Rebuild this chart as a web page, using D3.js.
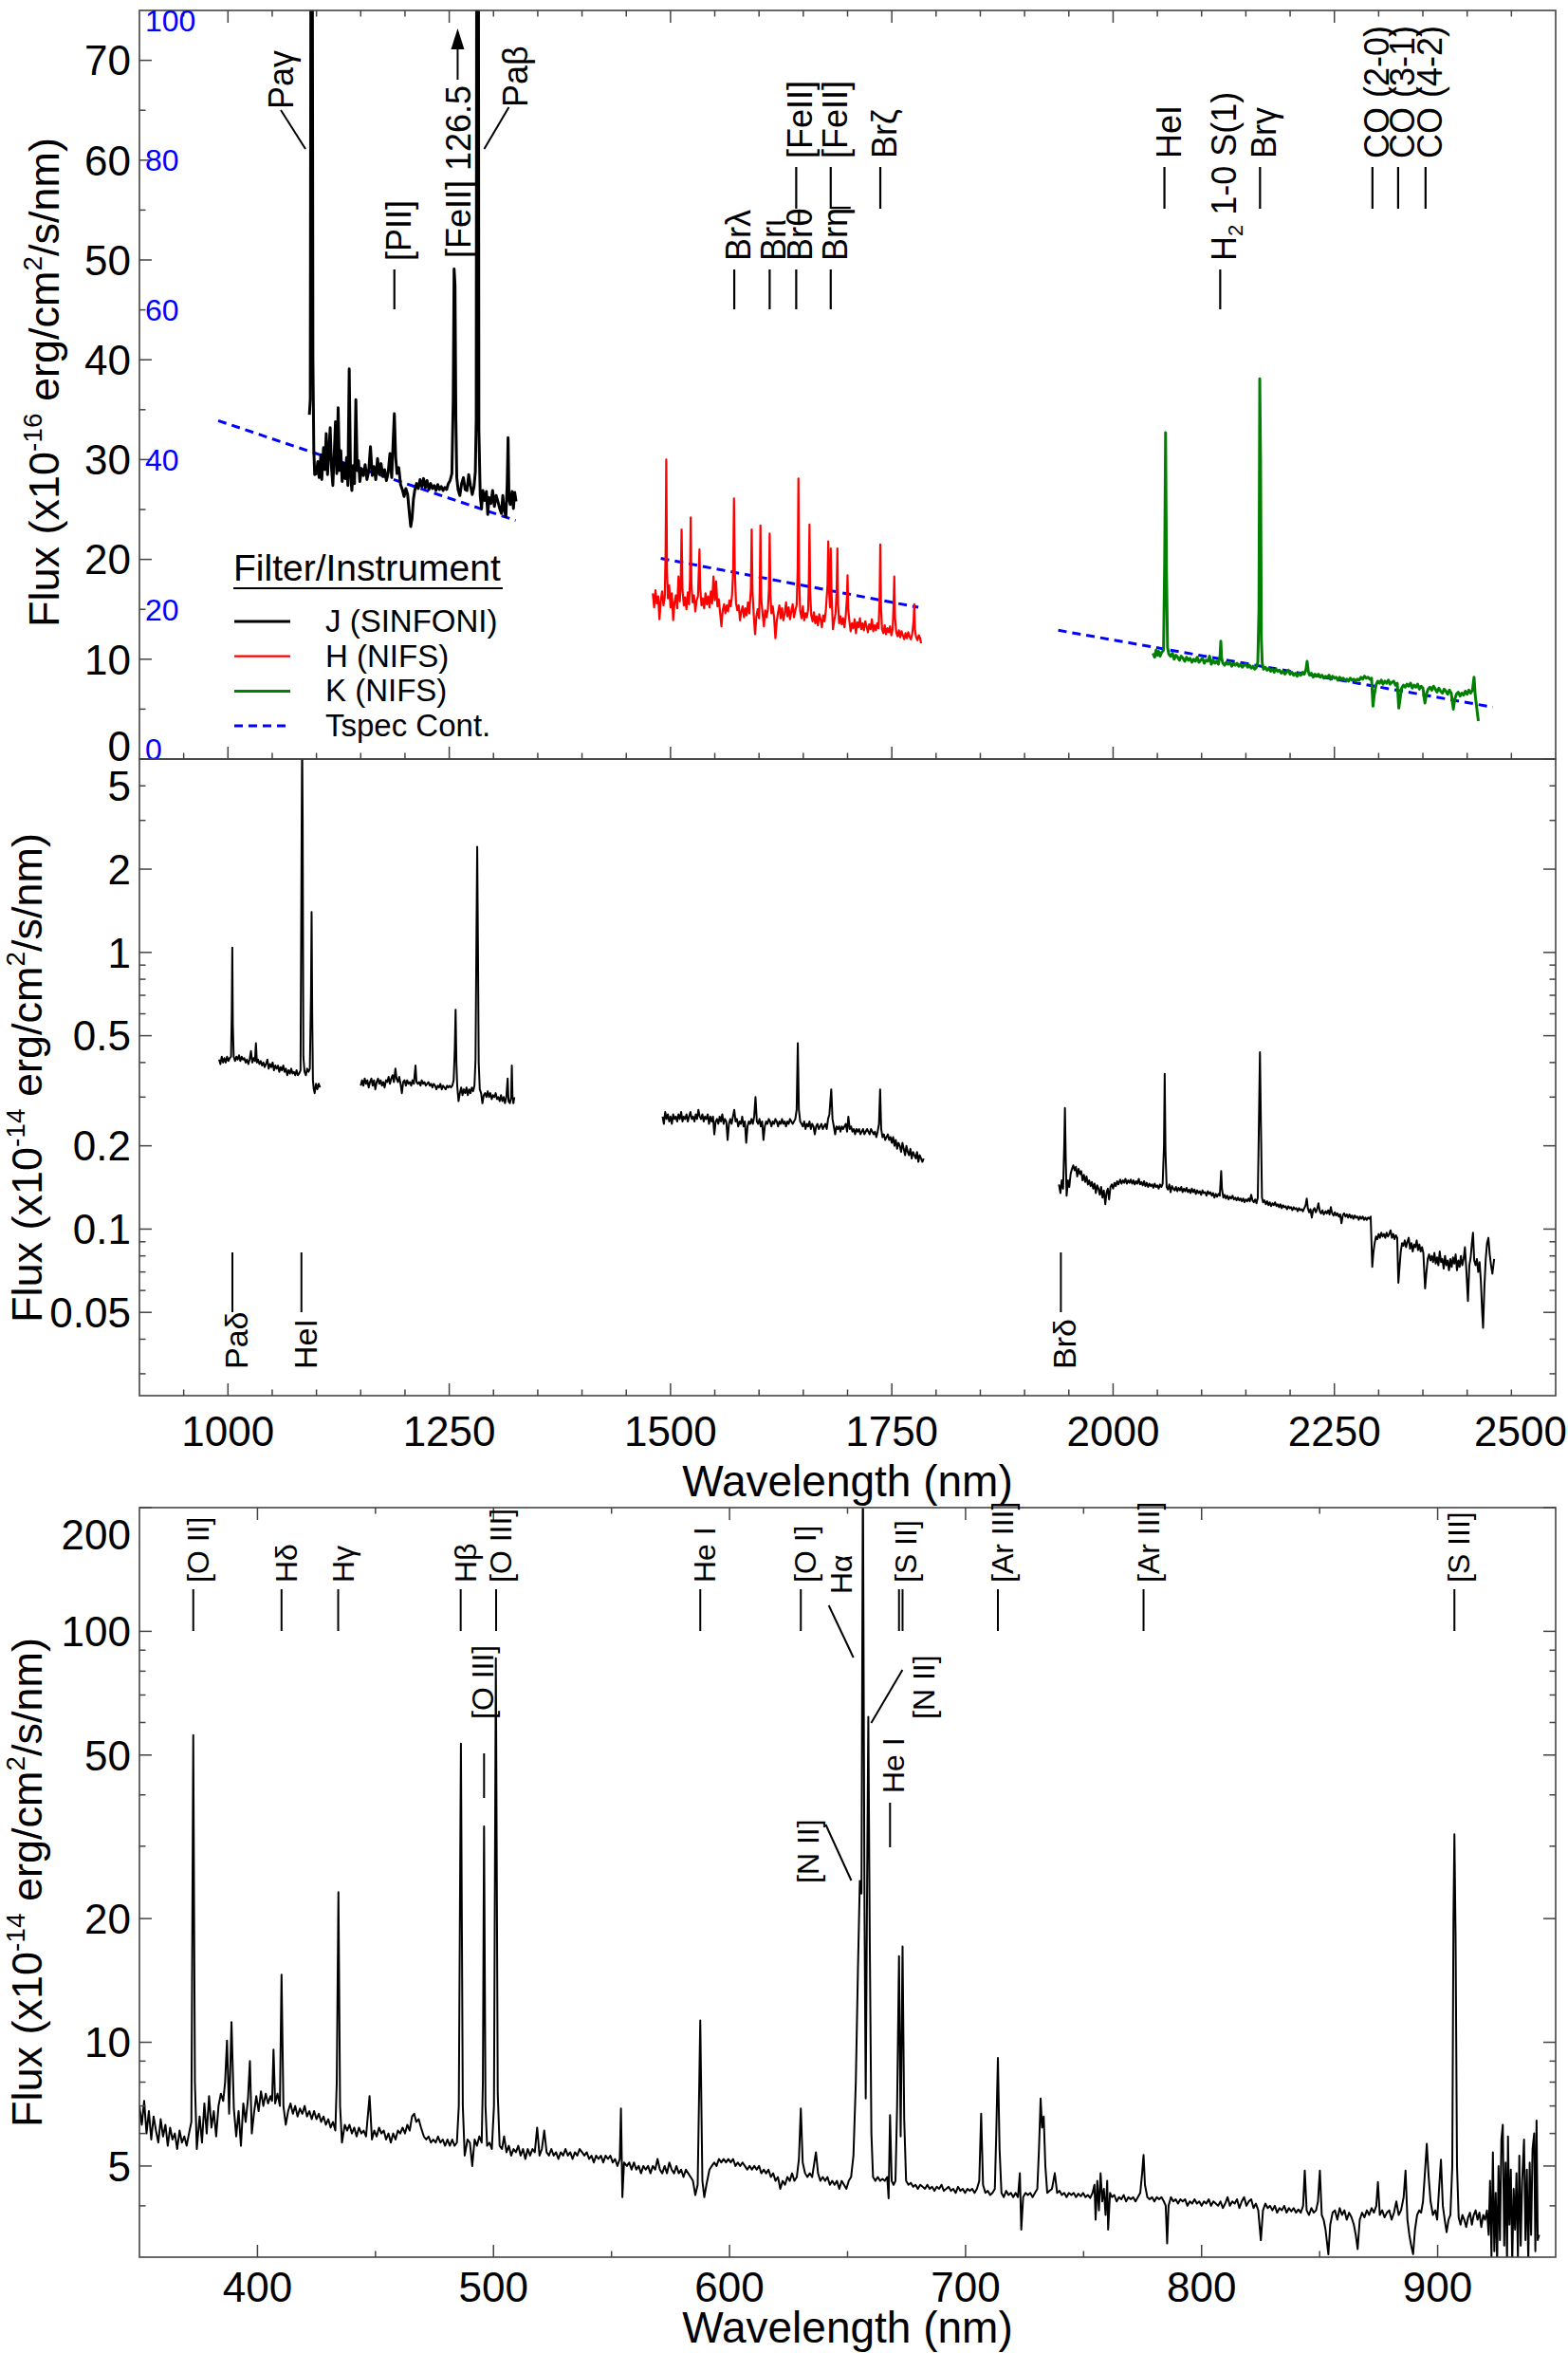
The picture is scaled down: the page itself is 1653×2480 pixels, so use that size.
<!DOCTYPE html>
<html>
<head>
<meta charset="utf-8">
<script src="https://cdn.jsdelivr.net/npm/d3@7"></script>
<style>
  body { margin: 0; background: #fff; }
  svg { display: block; font-family: "Liberation Sans", Arial, sans-serif; }
</style>
</head>
<body>
<svg id="chart" width="1653" height="2480"></svg>
<script>
// ---- data: [wavelength nm, flux] ----
const jBandTop = [
  [1092,34.5],[1093,36],[1094,100],[1095,100],[1096,40],[1097,31],[1098,28.5],[1100,28.6],[1101.5,29.8],[1103,28.2],
  [1105,30.5],[1106,28.0],[1108,31.2],[1109.5,29.0],[1111,32.6],[1112.5,28.5],[1114,30.8],[1115.5,33.2],[1117,29.2],[1118.5,27.4],
  [1120,30.4],[1121.5,33.8],[1123,28.6],[1124.5,35.2],[1126,28.9],[1127.5,30.9],[1129,27.8],[1131,29.6],[1132.5,28.1],[1134,30.2],
  [1135.5,27.4],[1137,39.1],[1138.5,28.6],[1140,26.9],[1141.5,29.4],[1143,27.6],[1144.5,36.0],[1146,28.9],[1147.5,29.9],[1149,27.8],
  [1151,29.1],[1153,28.4],[1155,29.5],[1157,28.0],[1159,28.8],[1161,31.3],[1163,28.4],[1165,29.3],[1167,28.0],[1169,30.1],
  [1171,28.5],[1173,29.6],[1175,28.3],[1177,29.0],[1179,27.9],[1181,28.7],[1183,30.6],[1185,28.2],[1186.5,31.5],[1188,34.6],
  [1189.5,30.2],[1191,28.6],[1193,29.2],[1195,27.5],[1197,27.0],[1199,26.3],[1201,27.1],[1203,26.5],[1205,24.6],[1206.5,23.3],
  [1208,24.1],[1209.5,26.0],[1211,26.9],[1213,27.6],[1215,27.1],[1217,28.0],[1219,27.3],[1221,28.1],[1223,27.2],[1225,27.9],
  [1227,27.0],[1229,27.6],[1231,27.1],[1233,27.4],[1235,26.9],[1237,27.5],[1239,27.0],[1241,27.3],[1243,26.9],[1245,27.2],
  [1247,27.0],[1249,27.6],[1251,27.9],[1253,28.6],[1254.5,36],[1255.5,49.1],[1256.5,47.5],[1257.5,34],[1258.5,28.2],[1260,27.0],
  [1262,26.4],[1264,27.6],[1266,28.2],[1268,27.0],[1270,26.9],[1272,28.5],[1274,27.4],[1276,26.5],[1278,27.3],[1279.5,28.8],
  [1280.5,34.1],[1281.5,126.5],[1282.5,126.5],[1283.5,33],[1285,26.4],[1286.5,25.1],[1288,26.9],[1290,25.9],[1292,26.8],[1293.5,24.5],
  [1295,26.2],[1297,25.6],[1299,26.9],[1301,25.3],[1303,26.4],[1305,25.8],[1307,25.1],[1309,24.6],[1310.5,26.4],[1312,25.0],
  [1314,24.3],[1315.5,27.6],[1316.5,32.2],[1317.5,26.0],[1319,25.5],[1321,26.8],[1322.5,25.1],[1324,26.7],[1325.5,25.8]
];

const hBandTop = [
  [1480,16.6],[1481.5,15.2],[1483,16.9],[1484.5,15.6],[1486,16.3],[1487.5,14.0],[1489,15.9],[1490.5,16.8],[1492,15.4],[1493.5,16.2],
  [1494.5,21],[1495.2,30.0],[1496,19],[1497,16.1],[1498.5,17.4],[1500,15.2],[1501.5,16.6],[1503,13.9],[1504.5,15.7],[1506,16.4],
  [1507.5,15.1],[1509,18.3],[1510.5,15.8],[1511.5,17.5],[1512.5,23.0],[1513.5,17.0],[1515,15.4],[1516.5,16.2],[1518,15.0],[1519.5,16.7],
  [1521,15.5],[1522,18],[1522.8,24.2],[1523.6,17.5],[1525,15.7],[1526.5,16.4],[1528,14.8],[1529.5,15.9],[1531,16.3],[1532,19],
  [1532.7,21.0],[1533.5,17.2],[1535,15.4],[1536.5,16.1],[1538,15.1],[1539.5,16.6],[1541,15.5],[1542.5,16.3],[1544,15.2],[1545.5,16.8],
  [1547,15.6],[1548.5,18.3],[1550,15.9],[1551.5,17.8],[1553,15.3],[1554.5,16.0],[1556,14.7],[1557.5,13.3],[1559,14.9],[1560.5,15.5],
  [1562,14.6],[1563.5,15.4],[1565,14.8],[1566.5,15.9],[1568,15.3],[1569.5,16.4],[1570.8,19],[1571.7,26.1],[1572.6,19],[1574,15.6],
  [1575.5,14.9],[1577,15.4],[1578.5,13.9],[1580,14.8],[1581.5,15.3],[1583,14.2],[1584.5,15.1],[1586,14.4],[1587.5,15.7],[1589,14.6],
  [1590.8,17],[1591.7,23.0],[1592.6,16.8],[1594,14.5],[1595.5,12.5],[1597,14.3],[1598.5,15.0],[1600,14.1],[1600.8,17],[1601.6,23.4],
  [1602.5,16],[1604,14.6],[1605.5,13.3],[1607,14.9],[1608.5,14.2],[1610,15.0],[1611.2,17],[1612,22.6],[1612.9,16.4],[1614,14.6],
  [1615.5,15.3],[1617,14.2],[1618.5,12.1],[1620,13.8],[1621.5,14.7],[1623,15.4],[1624.5,14.1],[1626,15.1],[1627.5,13.9],[1629,14.6],
  [1630.5,15.7],[1632,14.3],[1633.5,15.2],[1635,14.0],[1636.5,14.8],[1638,15.5],[1639.5,14.2],[1641,14.9],[1642.5,15.4],[1643.7,19],
  [1644.5,28.1],[1645.3,18],[1646.5,14.8],[1648,14.1],[1649.5,15.3],[1651,13.9],[1652.5,14.6],[1654,14.2],[1655.5,15.0],[1656.3,18],
  [1657,23.5],[1657.8,16.6],[1659,14.4],[1660.5,13.8],[1662,14.7],[1663.5,13.6],[1665,14.3],[1666.5,13.4],[1668,14.5],[1669.5,14.0],
  [1671,13.2],[1672.5,14.4],[1674,13.8],[1675.5,14.9],[1677.4,17.5],[1678.2,21.8],[1679,17],[1680.2,15.2],[1681,21.1],[1682,16.4],
  [1683.5,13.0],[1685,13.9],[1686.5,14.6],[1687.7,17],[1688.5,21.1],[1689.3,15.5],[1690.5,13.6],[1692,14.3],[1693.5,13.5],[1695,14.1],
  [1696.5,13.2],[1698,14.4],[1699.2,16],[1700,18.4],[1700.8,15],[1702,13.9],[1703.5,12.8],[1705,13.6],[1706.5,13.1],[1708,14.0],
  [1709.5,12.6],[1711,13.7],[1712.5,13.2],[1714,14.1],[1715.5,13.0],[1717,13.6],[1718.5,12.9],[1720,13.8],[1721.5,13.3],[1723,12.7],
  [1724.5,13.5],[1726,13.0],[1727.5,14.0],[1729,12.8],[1730.5,13.4],[1732,12.9],[1733.5,13.6],[1735,13.1],[1736.2,16],[1737,21.5],
  [1737.8,15.2],[1739,13.0],[1740.5,12.6],[1742,13.4],[1743.5,12.5],[1745,13.1],[1746.5,12.7],[1748,13.3],[1749.5,12.4],[1751,13.0],
  [1752,15.5],[1752.8,18.3],[1753.6,14.2],[1755,12.7],[1756.5,12.3],[1758,12.9],[1759.5,12.2],[1761,12.8],[1762.5,12.4],[1764,12.0],
  [1765.5,12.6],[1767,12.1],[1768.5,12.7],[1770,12.3],[1771.5,12.0],[1773,12.5],[1774.6,13.8],[1775.4,15.5],[1776.2,12.9],[1777.5,12.2],
  [1779,11.9],[1780.5,12.4],[1782,12.1],[1783,11.6]
];

const kBandTop = [
  [2045,10.6],[2047,10.2],[2048.5,10.9],[2050,10.4],[2051.5,10.8],[2053,10.3],[2055,10.7],[2057,10.9],[2058.3,20],[2059.3,32.7],
  [2060.3,19],[2061.5,11.2],[2063,10.5],[2065,10.3],[2067,10.6],[2069,10.0],[2071,10.4],[2073,10.2],[2075,9.9],[2077,10.3],
  [2079,10.1],[2081,9.8],[2083,10.2],[2085,9.9],[2087,10.1],[2089,9.7],[2091,10.0],[2093,9.8],[2095,10.2],[2097,9.7],
  [2099,9.9],[2101,10.1],[2103,9.6],[2105,9.9],[2107,9.8],[2109,10.3],[2111,9.5],[2113,9.9],[2115,9.6],[2117,9.8],
  [2119,9.5],[2120.8,10.3],[2121.7,11.8],[2122.6,10.1],[2124,9.6],[2126,9.4],[2128,9.7],[2130,9.5],[2132,9.7],[2134,9.3],
  [2136,9.6],[2138,9.4],[2140,9.6],[2142,9.3],[2144,9.5],[2146,9.2],[2148,9.4],[2150,9.5],[2152,9.2],[2154,9.4],
  [2156,9.1],[2158,9.3],[2160,9.0],[2162,9.2],[2163.5,9.7],[2164.8,15],[2165.7,38.1],[2166.6,30],[2167.5,12],[2168.5,9.6],
  [2170,9.0],[2172,9.2],[2174,8.9],[2176,9.1],[2178,8.8],[2180,9.0],[2182,8.7],[2184,9.0],[2186,8.8],[2188,8.9],
  [2190,8.6],[2192,8.8],[2194,8.5],[2196,8.7],[2198,8.9],[2200,8.5],[2202,8.7],[2204,8.4],[2206,8.6],[2208,8.3],
  [2210,8.6],[2212,8.4],[2214,8.7],[2216,8.5],[2218,9.0],[2219.2,9.8],[2220.5,8.8],[2222,8.4],[2224,8.6],[2226,8.2],
  [2228,8.5],[2230,8.3],[2232,8.5],[2234,8.2],[2236,8.4],[2238,8.1],[2240,8.3],[2242,8.2],[2244,8.4],[2246,8.0],
  [2248,8.3],[2250,8.1],[2252,8.2],[2254,7.9],[2256,8.2],[2258,8.0],[2260,8.1],[2262,7.9],[2264,8.0],[2266,7.8],
  [2268,8.1],[2270,7.9],[2272,8.0],[2274,7.8],[2276,8.0],[2278,7.9],[2280,8.2],[2282,8.0],[2284,8.3],[2286,8.1],
  [2288,8.2],[2290,8.0],[2292,8.1],[2293.6,5.3],[2295,6.4],[2297,7.4],[2299,7.8],[2301,7.6],[2303,7.9],[2305,7.5],
  [2307,7.8],[2309,7.6],[2311,7.9],[2313,7.5],[2315,7.7],[2317,7.8],[2319,7.4],[2321,7.6],[2322.8,5.1],[2324.5,6.2],
  [2326,7.1],[2328,7.4],[2330,7.2],[2332,7.5],[2334,7.3],[2336,7.6],[2338,7.1],[2340,7.4],[2342,7.2],[2344,7.5],
  [2346,7.0],[2348,7.3],[2350,7.1],[2352.3,5.6],[2354,6.5],[2356,7.0],[2358,7.2],[2360,6.9],[2362,7.3],[2364,7.0],
  [2366,6.7],[2368,7.1],[2370,6.8],[2372,6.6],[2374,7.0],[2376,6.8],[2378,6.5],[2380,6.9],[2382,6.6],[2384.4,5.0],
  [2386,6.0],[2388,6.5],[2390,6.7],[2392,6.3],[2394,6.6],[2396,6.4],[2398,6.8],[2400,6.5],[2402,6.9],[2404,6.6],
  [2406,6.9],[2407.8,8.2],[2409,6.5],[2411,5.0],[2412.7,3.8]
];

// Tspec continuum segments (straight dashed lines)
const tspecJ = [[989,33.9],[1325,23.9]];
const tspecH = [[1489,20.1],[1780,15.2]];
const tspecK = [[1938,12.9],[2429,5.2]];

// middle panel (log flux, x1e-14)
const midSeg1 = [
  [990,0.41],[991.5,0.395],[993,0.42],[994.5,0.40],[996,0.415],[997.5,0.40],[999,0.42],[1000.5,0.405],[1002,0.415],[1003.5,0.42],
  [1004.3,0.6],[1004.9,1.04],[1005.5,0.55],[1006.5,0.42],[1008,0.405],[1009.5,0.42],[1011,0.41],[1012.5,0.425],[1014,0.405],[1015.5,0.42],
  [1017,0.41],[1018.5,0.415],[1020,0.40],[1021.5,0.41],[1023,0.395],[1024.5,0.41],[1026,0.44],[1027.5,0.40],[1029,0.415],[1030.5,0.405],
  [1031.6,0.47],[1032.7,0.40],[1034,0.41],[1035.5,0.395],[1037,0.405],[1038.5,0.39],[1040,0.40],[1041.5,0.385],[1043,0.395],[1044.5,0.41],
  [1046,0.38],[1047.5,0.395],[1049,0.385],[1050.5,0.40],[1052,0.375],[1053.5,0.39],[1055,0.38],[1056.5,0.39],[1058,0.37],[1059.5,0.385],
  [1061,0.375],[1062.5,0.39],[1064,0.37],[1065.5,0.38],[1067,0.36],[1068.5,0.375],[1070,0.365],[1071.5,0.38],[1073,0.365],[1074.5,0.37],
  [1076,0.36],[1077.5,0.375],[1079,0.36],[1080.5,0.365],[1082,0.375],[1083.2,2.5],[1083.8,6.0],[1084.4,3.0],[1085.2,0.42],[1086.5,0.37],
  [1088,0.36],[1089.5,0.38],[1091,0.37],[1092.5,0.38],[1093.8,0.7],[1094.5,1.40],[1095.2,0.6],[1096,0.345],[1097,0.32],[1098,0.31],
  [1099.5,0.335],[1101,0.32],[1102.5,0.335],[1104,0.325]
];
const midSeg2 = [
  [1150,0.33],[1151.5,0.345],[1153,0.33],[1154.5,0.35],[1156,0.335],[1157.5,0.345],[1159,0.325],[1160.5,0.34],[1162,0.35],[1163.5,0.33],
  [1165,0.345],[1166.5,0.32],[1168,0.34],[1169.5,0.35],[1171,0.335],[1172.5,0.345],[1174,0.33],[1175.5,0.34],[1177,0.325],[1178.5,0.345],
  [1180,0.34],[1181.5,0.355],[1183,0.335],[1184.5,0.35],[1186,0.36],[1187.5,0.34],[1189.2,0.38],[1190.5,0.35],[1192,0.34],[1193.5,0.355],
  [1195,0.335],[1196.5,0.31],[1198,0.34],[1199.5,0.345],[1201,0.33],[1202.5,0.345],[1204,0.335],[1205.5,0.34],[1207,0.33],[1208.5,0.345],
  [1210,0.335],[1211.9,0.39],[1213,0.34],[1214.5,0.335],[1216,0.34],[1217.5,0.33],[1219,0.345],[1220.5,0.335],[1222,0.34],[1223.5,0.33],
  [1225,0.335],[1226.5,0.34],[1228,0.33],[1229.5,0.335],[1231,0.325],[1232.5,0.335],[1234,0.33],[1235.5,0.32],[1237,0.33],[1238.5,0.325],
  [1240,0.335],[1241.5,0.32],[1243,0.33],[1244.5,0.325],[1246,0.32],[1247.5,0.33],[1249,0.325],[1250.5,0.33],[1252,0.325],[1253.5,0.33],
  [1255,0.345],[1256.3,0.45],[1257.2,0.62],[1258.1,0.4],[1259,0.33],[1260.5,0.29],[1262,0.31],[1263.5,0.325],[1265,0.305],[1266.5,0.32],
  [1268,0.31],[1269.5,0.325],[1271,0.305],[1272.5,0.32],[1274,0.31],[1275.5,0.325],[1277,0.315],[1278.5,0.33],[1279.7,0.41],[1280.8,1.2],
  [1281.6,2.41],[1282.4,1.1],[1283.3,0.4],[1284.5,0.32],[1286,0.31],[1287.5,0.285],[1289,0.305],[1290.5,0.31],[1292,0.30],[1293.5,0.315],
  [1295,0.30],[1296.5,0.31],[1298,0.295],[1299.5,0.305],[1301,0.30],[1302.5,0.31],[1304,0.295],[1305.5,0.30],[1307,0.29],[1308.5,0.305],
  [1310,0.29],[1311.5,0.30],[1313,0.285],[1314.5,0.30],[1316,0.35],[1317,0.29],[1318.5,0.285],[1320,0.30],[1320.7,0.39],[1321.5,0.30],
  [1322.5,0.285],[1323.5,0.30]
];
const midSeg3 = [
  [1491,0.255],[1492.5,0.24],[1494,0.265],[1495.5,0.25],[1497,0.26],[1498.5,0.245],[1500,0.255],[1501.5,0.24],[1503,0.26],[1504.5,0.25],
  [1506,0.255],[1507.5,0.245],[1509,0.26],[1510.5,0.25],[1512,0.265],[1513.5,0.245],[1515,0.255],[1516.5,0.25],[1518,0.26],[1519.5,0.245],
  [1521,0.255],[1522.5,0.265],[1524,0.25],[1525.5,0.255],[1527,0.245],[1528.5,0.26],[1530,0.25],[1531.5,0.27],[1533,0.255],[1534.5,0.25],
  [1536,0.26],[1537.5,0.245],[1539,0.255],[1540.5,0.25],[1542,0.26],[1543.5,0.24],[1545,0.255],[1546.5,0.245],[1548,0.255],[1549.5,0.22],
  [1551,0.245],[1552.5,0.25],[1554,0.24],[1555.5,0.255],[1557,0.245],[1558.5,0.26],[1560,0.24],[1561.5,0.25],[1563,0.245],[1564.5,0.21],
  [1566,0.24],[1567.5,0.25],[1569,0.24],[1570.5,0.255],[1572,0.27],[1573.5,0.245],[1575,0.25],[1576.5,0.235],[1578,0.245],[1579.5,0.24],
  [1581,0.255],[1582.5,0.235],[1584,0.245],[1585.5,0.205],[1587,0.235],[1588.5,0.245],[1590,0.24],[1591.5,0.25],[1593,0.24],[1594.5,0.255],
  [1596,0.30],[1597.5,0.245],[1599,0.24],[1600.5,0.25],[1602,0.235],[1603.5,0.245],[1605,0.21],[1606.5,0.235],[1608,0.245],[1609.5,0.24],
  [1611,0.25],[1612.5,0.245],[1614,0.235],[1615.5,0.245],[1617,0.24],[1618.5,0.25],[1620,0.245],[1621.5,0.235],[1623,0.245],[1624.5,0.24],
  [1626,0.25],[1627.5,0.24],[1629,0.245],[1630.5,0.235],[1632,0.245],[1633.5,0.24],[1635,0.25],[1636.5,0.245],[1638,0.24],[1639.5,0.245],
  [1641,0.25],[1642.5,0.27],[1643.8,0.47],[1645,0.27],[1646.5,0.245],[1648,0.24],[1649.5,0.235],[1651,0.245],[1652.5,0.23],[1654,0.24],
  [1655.5,0.235],[1657,0.245],[1658.5,0.23],[1660,0.24],[1661.5,0.235],[1663,0.22],[1664.5,0.235],[1666,0.24],[1667.5,0.23],[1669,0.235],
  [1670.5,0.24],[1672,0.23],[1673.5,0.235],[1675,0.24],[1676.5,0.23],[1678,0.25],[1679.5,0.26],[1681.6,0.32],[1683,0.25],[1684.5,0.235],
  [1686,0.22],[1687.5,0.235],[1689,0.23],[1690.5,0.235],[1692,0.225],[1693.5,0.235],[1695,0.23],[1696.5,0.235],[1698,0.24],[1699.5,0.225],
  [1700.9,0.255],[1702.5,0.23],[1704,0.235],[1705.5,0.225],[1707,0.23],[1708.5,0.22],[1710,0.23],[1711.5,0.225],[1713,0.23],[1714.5,0.22],
  [1716,0.225],[1717.5,0.23],[1719,0.22],[1720.5,0.225],[1722,0.23],[1723.5,0.225],[1725,0.22],[1726.5,0.23],[1728,0.225],[1729.5,0.22],
  [1731,0.225],[1732.5,0.215],[1734,0.225],[1735.5,0.24],[1736.8,0.32],[1738,0.23],[1739.5,0.215],[1741,0.22],[1742.5,0.21],[1744,0.215],
  [1745.5,0.22],[1747,0.21],[1748.5,0.215],[1750,0.205],[1751.5,0.215],[1753,0.2],[1754.5,0.21],[1756,0.195],[1757.5,0.205],[1759,0.2],
  [1760.5,0.19],[1762,0.205],[1763.5,0.195],[1765,0.185],[1766.5,0.2],[1768,0.19],[1769.5,0.185],[1771,0.195],[1772.5,0.18],[1774,0.19],
  [1775.5,0.185],[1777,0.18],[1778.5,0.19],[1780,0.175],[1781.5,0.185],[1783,0.18],[1784.5,0.175],[1786,0.18]
];
const midSeg4 = [
  [1938.8,0.145],[1940.5,0.135],[1942,0.15],[1943.5,0.14],[1944.8,0.2],[1945.6,0.274],[1946.5,0.18],[1947.5,0.132],[1949,0.15],[1950.5,0.142],
  [1952,0.158],[1953.5,0.165],[1955,0.17],[1956.5,0.163],[1958,0.168],[1959.5,0.155],[1961,0.165],[1962.5,0.158],[1964,0.162],[1965.5,0.15],
  [1967,0.157],[1968.5,0.148],[1970,0.155],[1971.5,0.145],[1973,0.15],[1974.5,0.143],[1976,0.148],[1977.5,0.14],[1979,0.146],[1980.5,0.135],
  [1982,0.144],[1983.5,0.14],[1985,0.133],[1986.5,0.142],[1988,0.13],[1989.5,0.138],[1991.2,0.123],[1992.5,0.135],[1994,0.14],[1995.5,0.128],
  [1997,0.142],[1998.5,0.145],[2000,0.14],[2001.5,0.147],[2003,0.143],[2004.5,0.149],[2006,0.145],[2008,0.151],[2009.5,0.146],[2011,0.15],
  [2012.5,0.147],[2014,0.152],[2015.5,0.146],[2017,0.15],[2018.5,0.147],[2020,0.151],[2021.5,0.146],[2023,0.15],[2024.5,0.145],[2026,0.149],
  [2027.5,0.146],[2029,0.152],[2030.5,0.145],[2032,0.148],[2033.5,0.144],[2035,0.149],[2036.5,0.143],[2038,0.147],[2039.5,0.142],[2041,0.146],
  [2042.5,0.143],[2044,0.145],[2045.5,0.141],[2047,0.146],[2048.5,0.142],[2050,0.144],[2051.5,0.14],[2053,0.145],[2054.5,0.142],[2056,0.146],
  [2057.5,0.2],[2058.3,0.364],[2059.2,0.19],[2060.5,0.142],[2062,0.139],[2063.5,0.145],[2065,0.136],[2066.5,0.143],[2068,0.14],[2069.5,0.138],
  [2071,0.142],[2072.5,0.137],[2074,0.141],[2075.5,0.138],[2077,0.142],[2078.5,0.136],[2080,0.14],[2081.5,0.137],[2083,0.141],[2084.5,0.136],
  [2086,0.139],[2087.5,0.135],[2089,0.14],[2090.5,0.136],[2092,0.139],[2093.5,0.134],[2095,0.138],[2096.5,0.135],[2098,0.137],[2099.5,0.133],
  [2101,0.138],[2102.5,0.135],[2104,0.136],[2105.5,0.132],[2107,0.137],[2108.5,0.134],[2110,0.136],[2111.5,0.132],[2113,0.135],[2114.5,0.13],
  [2116,0.134],[2117.5,0.131],[2119,0.134],[2120.5,0.132],[2121.3,0.145],[2122.1,0.162],[2123,0.14],[2124.5,0.13],[2126,0.133],[2127.5,0.129],
  [2129,0.132],[2130.5,0.128],[2132,0.131],[2133.5,0.129],[2135,0.132],[2136.5,0.128],[2138,0.13],[2139.5,0.127],[2141,0.13],[2142.5,0.127],
  [2144,0.129],[2145.5,0.126],[2147,0.129],[2148.5,0.125],[2150,0.128],[2151.5,0.126],[2153,0.129],[2154.5,0.126],[2156,0.133],[2157.5,0.127],
  [2159,0.125],[2160.5,0.128],[2162,0.124],[2163.5,0.13],[2164.8,0.25],[2165.9,0.436],[2167,0.24],[2168.2,0.13],[2169.5,0.125],[2171,0.127],
  [2172.5,0.123],[2174,0.126],[2175.5,0.122],[2177,0.125],[2178.5,0.121],[2180,0.124],[2181.5,0.122],[2183,0.125],[2184.5,0.121],[2186,0.123],
  [2187.5,0.12],[2189,0.123],[2190.5,0.119],[2192,0.122],[2193.5,0.12],[2195,0.121],[2196.5,0.118],[2198,0.121],[2199.5,0.119],[2201,0.12],
  [2202.5,0.117],[2204,0.12],[2205.5,0.118],[2207,0.119],[2208.5,0.116],[2210,0.119],[2211.5,0.117],[2213,0.118],[2214.5,0.116],[2216,0.119],
  [2217.5,0.122],[2218.8,0.129],[2220,0.119],[2221.5,0.115],[2223,0.118],[2224.5,0.11],[2226,0.117],[2227.5,0.119],[2229,0.115],[2230.5,0.118],
  [2232,0.124],[2233.5,0.116],[2235,0.114],[2236.5,0.117],[2238,0.113],[2240,0.116],[2241.5,0.114],[2243,0.117],[2244.5,0.113],[2246,0.12],
  [2247.5,0.114],[2249,0.112],[2250.5,0.115],[2252,0.112],[2253.5,0.114],[2255,0.111],[2256.5,0.113],[2258,0.105],[2259.5,0.112],[2261,0.114],
  [2262.5,0.111],[2264,0.113],[2265.5,0.11],[2267,0.113],[2268.5,0.11],[2270,0.112],[2271.5,0.109],[2273,0.112],[2274.5,0.11],[2276,0.111],
  [2277.5,0.108],[2279,0.111],[2280.5,0.109],[2282,0.111],[2283.5,0.108],[2285,0.11],[2286.5,0.108],[2288,0.11],[2289.5,0.109],[2291,0.111],
  [2292.8,0.073],[2294,0.082],[2295.5,0.089],[2297,0.094],[2298.5,0.092],[2300,0.096],[2301.5,0.093],[2303,0.097],[2304.5,0.094],[2306,0.096],
  [2307.5,0.093],[2309,0.097],[2310.5,0.094],[2312,0.096],[2313.5,0.099],[2315,0.093],[2316.5,0.096],[2318,0.092],[2319.5,0.095],[2321,0.093],
  [2322.3,0.064],[2323.5,0.072],[2325,0.083],[2326.5,0.089],[2328,0.087],[2329.5,0.091],[2331,0.086],[2332.5,0.09],[2334,0.093],[2335.5,0.085],
  [2337,0.089],[2338.5,0.083],[2340,0.088],[2341.5,0.086],[2343,0.091],[2344.5,0.084],[2346,0.088],[2347.5,0.083],[2349,0.086],[2350.5,0.082],
  [2352.5,0.061],[2354,0.07],[2355.5,0.078],[2357,0.081],[2358.5,0.077],[2360,0.08],[2361.5,0.076],[2363,0.082],[2364.5,0.075],[2366,0.079],
  [2367.5,0.074],[2369,0.083],[2370.5,0.076],[2372,0.078],[2373.5,0.072],[2375,0.08],[2376.5,0.074],[2378,0.077],[2379.5,0.071],[2381,0.078],
  [2382.5,0.073],[2384,0.079],[2385.5,0.075],[2387,0.081],[2388.5,0.071],[2390,0.077],[2391.5,0.073],[2393,0.08],[2394.5,0.074],[2396,0.078],
  [2397.5,0.086],[2399,0.072],[2400.9,0.055],[2402.5,0.074],[2404,0.079],[2405.5,0.09],[2406.6,0.097],[2408,0.077],[2409.5,0.074],[2411,0.078],
  [2412.5,0.07],[2414,0.076],[2415.5,0.065],[2417,0.05],[2418,0.044],[2419.5,0.062],[2421,0.078],[2422.5,0.089],[2424,0.093],[2425.5,0.081],
  [2427,0.074],[2428.5,0.069],[2430.5,0.078]
];

// bottom panel optical spectrum (x1e-14)
const optSpec = [
  [350,7.0],[351,6.3],[352,7.2],[353,6.0],[354,6.8],[355,5.8],[356,6.6],[357,6.1],[358,5.7],[359,6.5],
  [360,5.9],[361,6.3],[362,5.6],[363,6.2],[364,5.8],[365,6.0],[366,5.5],[367,6.1],[368,5.7],[369,5.9],
  [370,5.6],[371,6.0],[372,6.4],[372.8,55.9],[373.5,8],[374.3,5.5],[375.5,6.6],[376.5,5.7],[377.5,7.1],[378.5,6.0],
  [379.5,7.4],[380.5,6.2],[381.5,6.8],[382.5,5.9],[383.5,7.0],[384.5,7.5],[385.5,7.2],[386.3,8.0],[387.1,10.1],[388,6.7],
  [389,11.2],[390,6.9],[391,5.9],[392,6.8],[393,5.6],[394,7.1],[395,6.4],[396,7.3],[396.8,9.0],[397.6,6.0],
  [398.5,6.7],[399.5,7.4],[400.5,6.8],[401.5,7.6],[402.5,7.0],[403.5,7.5],[404.5,7.1],[405.5,7.4],[406.2,7.2],[406.8,9.6],
  [407.5,7.1],[408.5,7.5],[409.5,7.0],[410.2,14.6],[411,7.0],[412,6.3],[413,6.8],[414,7.1],[415,6.7],[416,7.0],
  [417,6.6],[418,6.9],[419,6.7],[420,7.0],[421,6.6],[422,6.8],[423,6.5],[424,6.8],[425,6.5],[426,6.7],
  [427,6.4],[428,6.6],[429,6.3],[430,6.5],[431,6.2],[432,6.4],[433,6.1],[433.6,8],[434.3,23.2],[435,7],
  [435.8,5.7],[437,6.3],[438,6.1],[439,6.3],[440,6.0],[441,6.2],[442,5.9],[443,6.2],[444,6.0],[445,6.1],
  [446,5.9],[447.5,7.4],[448.5,5.8],[449.5,6.1],[450.5,5.9],[451.5,6.2],[452.5,6.0],[453.5,6.1],[454.5,5.8],[455.5,6.0],
  [456.5,5.7],[457.5,6.0],[458.5,5.8],[459.5,6.1],[460.5,6.0],[461.5,6.2],[462.5,6.0],[463.5,6.3],[464.5,6.1],[465.5,6.6],
  [466.4,6.7],[467.3,6.4],[468.3,6.5],[469.3,6.2],[470.5,5.9],[471.5,5.8],[472.5,5.9],[473.5,5.7],[474.5,5.8],[475.5,5.7],
  [476.5,5.9],[477.5,5.7],[478.5,5.8],[479.5,5.6],[480.5,5.8],[481.5,5.6],[482.5,5.8],[483.5,5.6],[484.5,5.7],[485.3,7],
  [486.2,53.3],[487,7],[487.8,5.3],[489,5.8],[490,5.7],[491,5.0],[492,5.8],[493,5.6],[494,5.9],[495,5.7],
  [495.5,8],[496,33.5],[496.6,7],[497.3,5.6],[498.3,5.7],[499.3,5.5],[500.2,7],[501,86],[501.8,7.5],[502.6,5.6],
  [503.6,5.5],[504.5,5.9],[505.5,5.4],[506.5,5.6],[507.5,5.3],[508.5,5.5],[509.5,5.4],[510.5,5.6],[511.5,5.3],[512.5,5.5],
  [513.5,5.2],[514.5,5.5],[515.5,5.3],[516.5,5.5],[517.5,5.4],[518.5,6.2],[519.5,5.3],[520.5,5.5],[521.5,6.1],[522.5,5.4],
  [523.5,5.3],[524.5,5.5],[525.5,5.3],[526.5,5.4],[527.5,5.2],[528.5,5.4],[529.5,5.3],[530.5,5.5],[531.5,5.3],[532.5,5.4],
  [533.5,5.2],[534.5,5.4],[535.5,5.3],[536.5,5.5],[537.5,5.4],[538.5,5.3],[539.5,5.4],[540.5,5.2],[541.5,5.3],[542.5,5.1],
  [543.5,5.3],[544.5,5.2],[545.5,5.3],[546.5,5.1],[547.5,5.3],[548.5,5.2],[549.5,5.3],[550.5,5.1],[551.5,5.2],[552.5,5.0],
  [553.5,5.2],[554,6.9],[554.6,4.2],[555.3,5.1],[556.5,5.0],[557.5,5.1],[558.5,4.9],[559.5,5.1],[560.5,4.9],[561.5,5.0],
  [562.5,4.8],[563.5,5.0],[564.5,4.9],[565.5,5.0],[566.5,4.8],[567.5,5.0],[568.5,4.9],[569.5,5.2],[570.5,4.9],[571.5,4.8],
  [572.5,5.0],[573.5,4.8],[574.5,5.1],[575.5,4.9],[576.5,4.8],[577.5,5.0],[578.5,4.8],[579.5,4.9],[580.5,4.7],[581.5,4.9],
  [582.5,4.8],[583.5,4.7],[584.5,4.6],[585.5,4.25],[586.5,4.5],[587.6,11.3],[588.5,4.6],[589.3,4.2],[590.2,4.5],[591.5,4.9],
  [592.5,5.0],[593.5,5.1],[594.5,5.0],[595.5,5.2],[596.5,5.1],[597.5,5.2],[598.5,5.1],[599.5,5.2],[600.5,5.1],[601.5,5.2],
  [602.5,5.0],[603.5,5.1],[604.5,5.0],[605.5,5.1],[606.5,5.0],[607.5,4.9],[608.5,5.0],[609.5,4.9],[610.5,5.0],[611.5,4.9],
  [612.5,5.0],[613.5,4.8],[614.5,4.9],[615.5,4.8],[616.5,4.9],[617.5,4.7],[618.5,4.8],[619.5,4.6],[620.5,4.7],[621.5,4.4],
  [622.5,4.6],[623.5,4.5],[624.5,4.7],[625.5,4.6],[626.5,4.8],[627.5,4.6],[628.5,4.7],[629.4,5.2],[630.2,6.9],[631,5.1],
  [632,4.8],[633,4.7],[634,4.8],[635,4.7],[636.6,5.4],[637.5,4.8],[638.5,4.6],[639.5,4.7],[640.5,4.6],[641.5,4.7],
  [642.5,4.5],[643.5,4.6],[644.5,4.5],[645.5,4.6],[646.5,4.4],[647.5,4.6],[648.5,4.5],[649.5,4.4],[650.5,4.6],[651.5,4.7],
  [652.5,5.3],[653.5,8],[654.4,15],[655.2,24.7],[655.9,23],[656.5,250],[657.2,20],[657.7,7.3],[658.3,25],[658.8,61.9],
  [659.4,18],[660.1,6],[660.8,4.7],[661.8,4.6],[662.8,4.7],[663.8,4.6],[664.8,4.65],[665.8,4.6],[666.8,4.7],[667.4,4.17],
  [668,6.65],[668.7,4.6],[669.5,4.5],[670.3,4.6],[671,7],[671.8,16.2],[672.5,5.9],[673.3,17.1],[674,6.5],[674.8,4.6],
  [675.8,4.5],[676.8,4.55],[677.8,4.45],[678.8,4.5],[679.8,4.4],[680.8,4.5],[681.8,4.45],[682.8,4.4],[683.8,4.5],[684.8,4.4],
  [685.8,4.45],[686.8,4.35],[687.8,4.45],[688.8,4.4],[689.8,4.5],[690.8,4.35],[691.8,4.4],[692.8,4.45],[693.8,4.35],[694.8,4.4],
  [695.8,4.3],[696.8,4.45],[697.8,4.35],[698.8,4.4],[699.8,4.3],[700.8,4.4],[701.8,4.35],[702.8,4.4],[703.8,4.3],[704.8,4.4],
  [705.8,4.6],[706.6,6.7],[707.4,4.5],[708.4,4.3],[709.4,4.35],[710.4,4.25],[711.4,4.3],[712.4,4.4],[713,6],[713.7,9.16],
  [714.4,5.5],[715.2,4.3],[716.2,4.2],[717.2,4.35],[718.2,4.25],[719.2,4.3],[720.2,4.2],[721.2,4.3],[722.2,4.2],[723,4.8],
  [723.6,3.5],[724.4,4.2],[725.4,4.3],[726.4,4.25],[727.4,4.3],[728.4,4.2],[729.4,4.3],[730.4,4.4],[731.1,5.5],[731.8,7.3],
  [732.4,6.2],[733.1,6.6],[733.8,5.0],[734.6,4.3],[735.6,4.35],[736.6,4.4],[737.8,4.8],[738.8,4.3],[739.8,4.35],[740.8,4.25],
  [741.8,4.3],[742.8,4.2],[743.8,4.3],[744.8,4.25],[745.8,4.3],[746.8,4.2],[747.8,4.28],[748.8,4.22],[749.8,4.3],[750.8,4.2],
  [751.8,4.25],[752.8,4.18],[753.8,4.3],[754.6,4.5],[755.1,3.7],[755.8,4.6],[756.5,3.9],[757.2,4.8],[757.9,4.1],[758.6,4.4],
  [759.3,3.8],[760,4.6],[760.4,3.5],[761.2,4.3],[762,4.2],[763,4.25],[764,4.1],[765,4.2],[766,4.15],[767,4.25],
  [768,4.1],[769,4.2],[770,4.15],[771,4.2],[772,4.1],[773,4.2],[774,4.3],[774.8,4.8],[775.4,5.32],[776,4.5],
  [777,4.2],[778,4.15],[779,4.2],[780,4.1],[781,4.2],[782,4.15],[783,4.2],[784,4.1],[784.8,4.0],[785.4,3.24],
  [786,4.0],[787,4.2],[788,4.1],[789,4.15],[790,4.05],[791,4.15],[792,4.1],[793,4.15],[794,4.0],[795,4.1],
  [796,4.05],[797,4.15],[798,4.05],[799,4.1],[800,4.0],[801,4.1],[802,4.05],[803,4.15],[804,4.0],[805,4.1],
  [806,4.05],[807,4.0],[808,4.1],[809,3.95],[810,4.05],[811,4.2],[812,4.0],[813,4.1],[814,4.05],[815,4.15],
  [816,3.95],[817,4.1],[818,4.2],[819,4.0],[820,4.1],[821,4.15],[822,3.95],[823,4.05],[824,3.9],[825.1,3.3],
  [826,3.9],[827,4.05],[828,3.95],[829,4.0],[830,3.9],[831,4.0],[832,3.85],[833,3.95],[834,3.9],[835,4.0],
  [836,3.85],[837,3.95],[838,3.88],[839,3.95],[840,3.85],[841,3.92],[842,3.85],[843,4.0],[843.7,4.87],[844.5,3.9],
  [845.5,3.8],[846.5,3.95],[847.5,3.85],[848.5,3.9],[849.3,4.1],[850.1,4.87],[850.9,3.8],[851.7,3.7],[852.5,3.5],[853.7,3.05],
  [854.5,3.6],[855.5,3.85],[856.5,3.9],[857.5,3.7],[858.5,3.95],[859.5,3.8],[860.5,3.9],[861.5,3.7],[862.5,3.85],[863.5,3.75],
  [864.5,3.6],[865.3,3.4],[866.1,3.14],[867,3.7],[868,3.85],[869,3.75],[870,3.9],[871,3.8],[872,3.95],[873,3.85],
  [874,4.0],[874.7,4.57],[875.5,3.8],[876.5,3.9],[877.5,3.75],[878.5,3.85],[879.5,3.9],[880.5,3.7],[881.5,3.85],[882.5,4.1],
  [883.5,3.8],[884.5,3.9],[885.6,4.2],[886.4,4.87],[887.2,3.7],[888,3.4],[888.8,3.2],[889.6,3.05],[890.4,3.5],[891.3,3.8],
  [892.2,3.9],[893,3.85],[893.8,4.1],[894.6,4.8],[895.4,5.66],[896.2,4.7],[897,4.1],[898,3.8],[899,3.9],[899.8,3.7],
  [900.6,4.4],[901.4,5.18],[902.2,4.0],[903,3.7],[903.8,3.45],[904.6,3.7],[905.4,3.8],[906.2,5],[906.7,20],[907.1,32.1],
  [907.6,18],[908.2,5],[908.9,3.75],[909.7,3.6],[910.5,3.8],[911.3,3.7],[912.1,3.55],[912.9,3.75],[913.7,3.85],[914.5,3.6],
  [915.3,3.8],[916.1,3.9],[916.9,3.7],[917.7,3.85],[918.5,3.55],[919.3,3.8],[920.1,3.7],[920.9,3.9],[921.6,3.4],[922.2,4.6],
  [922.8,3.0],[923.4,5.4],[924,3.1],[924.6,4.3],[925.2,2.9],[925.8,5.0],[926.4,3.3],[927,5.8],[927.6,6.3],[928.2,3.2],
  [928.8,5.1],[929.4,2.9],[929.8,5.9],[930.4,3.6],[931,4.9],[931.6,2.9],[932.2,4.4],[932.8,3.5],[933.4,4.8],[934,3.0],
  [934.6,5.3],[935.2,3.2],[935.8,4.6],[936.6,5.8],[937.2,3.3],[937.8,4.9],[938.4,2.9],[939,5.1],[939.6,3.4],[940.2,5.5],
  [940.9,6.0],[941.4,3.1],[941.9,6.45],[942.4,3.3],[943,3.4]
];

// tick values / labels
const topYTicks = [0, 10, 20, 30, 40, 50, 60, 70];
const topYMinor = [5, 15, 25, 35, 45, 55, 65];
const topBlueTicks = [0, 20, 40, 60, 80, 100];
const irXTicks = [1000, 1250, 1500, 1750, 2000, 2250, 2500];
const midYTicks = [0.05, 0.1, 0.2, 0.5, 1, 2, 5];
const midYLabels = ["0.05", "0.1", "0.2", "0.5", "1", "2", "5"];
const midYMinor = [0.03, 0.04, 0.06, 0.07, 0.08, 0.09, 0.3, 0.4, 0.6, 0.7, 0.8, 0.9, 3, 4];
const optXTicks = [400, 500, 600, 700, 800, 900];
const botYTicks = [5, 10, 20, 50, 100, 200];
const botYMinor = [4, 6, 7, 8, 9, 30, 40, 60, 70, 80, 90];

// line identifications
const topLabelsLow = [["[PII]", 1188], ["Brλ", 1572], ["Brι", 1612], ["Brθ", 1642], ["Brη", 1681]];
const topLabelsHigh = [["[FeII]", 1642], ["[FeII]", 1681], ["Brζ", 1737], ["HeI", 2058], ["Brγ", 2166],
  ["CO (2-0)", 2293], ["CO (3-1)", 2322], ["CO (4-2)", 2353]];
const midLabels = [["Paδ", 1005], ["HeI", 1083], ["Brδ", 1941]];
const botLabels = [["[O II]", 372.8], ["Hδ", 410.2], ["Hγ", 434.2], ["Hβ", 486.1], ["[O III]", 501.1],
  ["He I", 587.6], ["[O I]", 630.2], ["[Ar III]", 713.7], ["[Ar III]", 775.4], ["[S III]", 907.1]];

const legendItems = [
  { name: "J (SINFONI)", color: "#000000", width: 3, dash: null },
  { name: "H (NIFS)", color: "#ff0000", width: 2.2, dash: null },
  { name: "K (NIFS)", color: "#008000", width: 3, dash: null },
  { name: "Tspec Cont.", color: "#0000ff", width: 3, dash: "9,6" },
];

// ---- layout ----
const left = 147, right = 1640;
const topP = { y0: 11, y1: 800 };
const midP = { y0: 800, y1: 1471 };
const botP = { y0: 1589, y1: 2379 };

const xIR = d3.scaleLinear().domain([900, 2500]).range([left, right]);
const yTop = d3.scaleLinear().domain([0, 75]).range([topP.y1, topP.y0]);
const yTopAlt = d3.scaleLinear().domain([0, 100]).range([topP.y1, topP.y0]);
const yMid = d3.scaleLog().domain([0.025, 5]).range([midP.y1, midP.y0]);
const xOpt = d3.scaleLinear().domain([350, 950]).range([left, right]);
const yBot = d3.scaleLog().domain([3, 200]).range([botP.y1, botP.y0]);

const svg = d3.select("#chart");
svg.append("rect").attr("width", 1653).attr("height", 2480).attr("fill", "#fff");

const defs = svg.append("defs");
[["clipTop", topP], ["clipMid", midP], ["clipBot", botP]].forEach(([id, p]) => {
  defs.append("clipPath").attr("id", id)
    .append("rect").attr("x", left).attr("y", p.y0).attr("width", right - left).attr("height", p.y1 - p.y0);
});

function drawSpec(clip, data, x, y, color, width, dash) {
  const line = d3.line().x((d) => x(d[0])).y((d) => y(d[1]));
  svg.append("path")
    .attr("clip-path", `url(#${clip})`)
    .attr("d", line(data))
    .attr("fill", "none")
    .attr("stroke", color)
    .attr("stroke-width", width)
    .attr("stroke-linejoin", "round")
    .attr("stroke-dasharray", dash);
}

const axisColor = "#444";
function tick(x1, y1, x2, y2) {
  svg.append("line").attr("x1", x1).attr("y1", y1).attr("x2", x2).attr("y2", y2)
    .attr("stroke", axisColor).attr("stroke-width", 1.5);
}
function frame(p) {
  svg.append("rect").attr("x", left).attr("y", p.y0).attr("width", right - left).attr("height", p.y1 - p.y0)
    .attr("fill", "none").attr("stroke", axisColor).attr("stroke-width", 1.6);
}
function yAxis(y, p, majors, labels, minors, rightSide) {
  majors.forEach((v, i) => {
    const py = y(v);
    tick(left, py, left + 13, py);
    if (rightSide) tick(right, py, right - 13, py);
    const ly = Math.min(Math.max(py, p.y0 + 28), p.y1 - 14);
    svg.append("text").attr("x", 138).attr("y", ly).attr("dy", "0.36em")
      .attr("text-anchor", "end").attr("font-size", 44).text(labels[i]);
  });
  minors.forEach((v) => {
    const py = y(v);
    tick(left, py, left + 6.5, py);
    if (rightSide) tick(right, py, right - 6.5, py);
  });
}
function xAxis(x, majors, minorStep, lo, hi, edges) {
  edges.forEach(([ey, dir]) => {
    for (let v = lo + minorStep; v < hi; v += minorStep) {
      const len = majors.includes(v) ? 13 : 6.5;
      tick(x(v), ey, x(v), ey + dir * len);
    }
  });
}
function xLabels(x, majors, baseY) {
  majors.forEach((v, i) => {
    const last = i === majors.length - 1 && x(v) > 1600;
    svg.append("text").attr("x", last ? 1652 : x(v)).attr("y", baseY)
      .attr("text-anchor", last ? "end" : "middle").attr("font-size", 44).text(v);
  });
}
function yTitle(x, cy, exp) {
  const t = svg.append("text").attr("transform", `translate(${x},${cy}) rotate(-90)`)
    .attr("text-anchor", "middle").attr("font-size", 45);
  t.append("tspan").text("Flux (x10");
  t.append("tspan").attr("font-size", 28).attr("dy", -18).text(exp);
  t.append("tspan").attr("dy", 18).text(" erg/cm");
  t.append("tspan").attr("font-size", 28).attr("dy", -18).text("2");
  t.append("tspan").attr("dy", 18).text("/s/nm)");
}
function vText(x, yBottom, txt, size) {
  return svg.append("text").attr("transform", `translate(${x},${yBottom}) rotate(-90)`)
    .attr("font-size", size).text(txt);
}
function seg(x1, y1, x2, y2, w) {
  svg.append("line").attr("x1", x1).attr("y1", y1).attr("x2", x2).attr("y2", y2)
    .attr("stroke", "#000").attr("stroke-width", w || 2);
}

// ---- top panel ----
drawSpec("clipTop", tspecJ, xIR, yTop, "#0000ff", 3, "9,6");
drawSpec("clipTop", tspecH, xIR, yTop, "#0000ff", 3, "9,6");
drawSpec("clipTop", tspecK, xIR, yTop, "#0000ff", 3, "9,6");
drawSpec("clipTop", jBandTop, xIR, yTop, "#000000", 3, null);
drawSpec("clipTop", hBandTop, xIR, yTop, "#ff0000", 2.2, null);
drawSpec("clipTop", kBandTop, xIR, yTop, "#008000", 3, null);
frame(topP);
yAxis(yTop, topP, topYTicks, topYTicks.map(String), topYMinor, false);
xAxis(xIR, irXTicks, 50, 900, 2500, [[topP.y0, 1], [topP.y1, -1]]);
topBlueTicks.forEach((v) => {
  const py = Math.min(Math.max(yTopAlt(v), topP.y0 + 10), topP.y1 - 11);
  svg.append("text").attr("x", 153).attr("y", py).attr("dy", "0.36em")
    .attr("font-size", 32).attr("fill", "#0000ff").text(v);
});
yTitle(62, 403, "-16");

// line ids, top panel
topLabelsLow.forEach(([t, w]) => {
  const L = xIR(w);
  seg(L, 284, L, 326, 2.2);
  vText(L + 17, 275, t, 36);
});
topLabelsHigh.forEach(([t, w]) => {
  const L = xIR(w);
  seg(L, 176, L, 220, 2.2);
  vText(L + 17, 167, t, 36);
});
seg(xIR(1681), 219, xIR(1681) + 21, 219, 2.2);
{
  // H2 1-0 S(1) with subscript
  const L = xIR(2121);
  seg(L, 284, L, 326, 2.2);
  const t = vText(L + 17, 275, "", 36);
  t.append("tspan").text("H");
  t.append("tspan").attr("font-size", 22).attr("dy", 7).text("2");
  t.append("tspan").attr("dy", -7).text(" 1-0 S(1)");
}
{
  // Pa gamma and Pa beta, slanted pointers
  const g = xIR(1094), b = xIR(1282);
  vText(g - 19, 115, "Paγ", 36);
  seg(g - 32, 116, g - 6, 157, 2);
  vText(b + 53, 113, "Paβ", 36);
  seg(b + 33, 113, b + 7, 157, 2);
  // [FeII] 1257 with peak value of Pa beta
  vText(b - 7, 272, "[FeII] 126.5", 36);
  const ax = b - 21;
  seg(ax, 84, ax, 48, 2);
  svg.append("path").attr("d", `M${ax},30 L${ax - 7},52 L${ax + 7},52 Z`).attr("fill", "#000");
}

// legend
svg.append("text").attr("x", 246).attr("y", 612).attr("font-size", 39).text("Filter/Instrument");
seg(246, 620, 530, 620, 2);
legendItems.forEach((d, i) => {
  const ly = 655 + i * 36.7;
  svg.append("line").attr("x1", 247).attr("x2", 306).attr("y1", ly).attr("y2", ly)
    .attr("stroke", d.color).attr("stroke-width", d.width).attr("stroke-dasharray", d.dash);
  svg.append("text").attr("x", 343).attr("y", ly + 11).attr("font-size", 33).text(d.name);
});

// ---- middle panel ----
[midSeg1, midSeg2, midSeg3, midSeg4].forEach((s) => drawSpec("clipMid", s, xIR, yMid, "#000", 2, null));
frame(midP);
yAxis(yMid, midP, midYTicks, midYLabels, midYMinor, true);
xAxis(xIR, irXTicks, 50, 900, 2500, [[midP.y1, -1]]);
xLabels(xIR, irXTicks, 1524);
svg.append("text").attr("x", (left + right) / 2).attr("y", 1577).attr("text-anchor", "middle")
  .attr("font-size", 46).text("Wavelength (nm)");
yTitle(44, 1136, "-14");
midLabels.forEach(([t, w]) => {
  const L = xIR(w);
  seg(L, 1320, L, 1383, 2);
  vText(L + 16, 1443, t, 34);
});

// ---- bottom panel ----
drawSpec("clipBot", optSpec, xOpt, yBot, "#000", 2, null);
frame(botP);
yAxis(yBot, botP, botYTicks, botYTicks.map(String), botYMinor, true);
xAxis(xOpt, optXTicks, 50, 350, 950, [[botP.y0, 1], [botP.y1, -1]]);
xLabels(xOpt, optXTicks, 2426);
svg.append("text").attr("x", (left + right) / 2).attr("y", 2469).attr("text-anchor", "middle")
  .attr("font-size", 46).text("Wavelength (nm)");
yTitle(44, 1984, "-14");

botLabels.forEach(([t, w]) => {
  const L = xOpt(w);
  seg(L, 1675, L, 1719, 2);
  vText(L + 16, 1668, t, 32);
});
{
  // [S II] doublet
  const a = xOpt(671.8), b = xOpt(673.3);
  seg(a, 1675, a, 1719, 2);
  seg(b, 1675, b, 1719, 2);
  vText((a + b) / 2 + 16, 1668, "[S II]", 32);
  // [O III] 4959
  const o = xOpt(496);
  seg(o, 1848, o, 1895, 2);
  vText(o + 10, 1812, "[O III]", 32);
  // He I 6678
  const h = xOpt(668);
  seg(h, 1900, h, 1947, 2);
  vText(h + 15, 1890, "He I", 32);
  // H alpha and [N II] pointers
  const ha = xOpt(656.5);
  vText(ha - 12, 1680, "Hα", 32);
  seg(ha - 36, 1692, ha - 10, 1747, 2);
  const n2 = xOpt(658.8);
  vText(n2 + 70, 1812, "[N II]", 32);
  seg(n2 + 36, 1760, n2 + 3, 1816, 2);
  const n1 = xOpt(655.2);
  vText(n1 - 43, 1985, "[N II]", 32);
  seg(n1 - 36, 1923, n1 - 9, 1982, 2);
}
</script>
</body>
</html>
